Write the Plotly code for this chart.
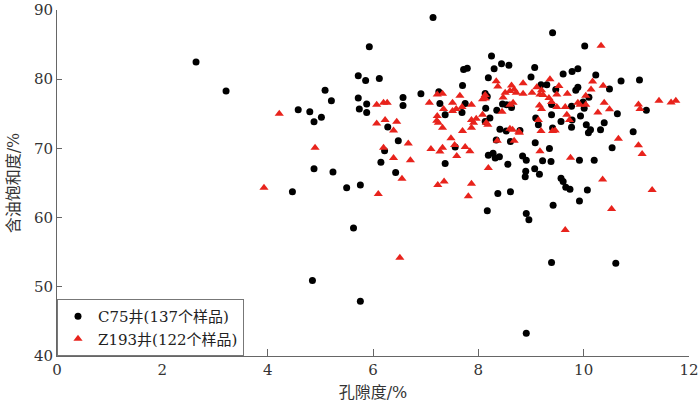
import plotly.graph_objects as go

# C75井 孔隙度 / 含油饱和度
c75_x = [2.64, 3.21, 4.58, 4.47,
         5.93, 5.72, 5.86, 6.12, 5.09, 5.21, 5.72, 5.88, 5.74, 5.88, 4.80, 5.02, 4.88, 6.57, 6.57, 6.28,
         6.48, 6.22, 6.15, 4.88, 5.24, 6.43, 5.50, 5.76, 5.63,
         4.85, 5.76, 9.39, 10.61, 8.91,
         7.14, 8.25, 8.44, 8.58, 8.30, 7.72, 7.79, 8.19, 7.70, 8.13, 8.17, 6.91, 7.25, 7.27, 7.75, 7.69,
         7.37, 8.14, 8.35, 8.46, 8.54, 8.22, 8.13, 8.41, 8.53,
         8.34, 8.61, 7.56, 8.19, 8.28, 8.32, 8.40, 8.56, 7.37, 8.37, 8.61, 8.17,
         9.41, 10.02, 9.07, 9.61, 9.78, 9.89, 10.23, 10.71, 11.06, 9.00, 9.19, 9.30, 9.47, 9.85, 9.89,
         10.49, 10.10, 9.39, 9.77, 9.99, 10.01, 10.64, 11.19, 8.63, 9.09, 9.39, 9.57, 9.78, 9.94, 10.39,
         10.32, 10.05, 10.13, 10.09, 9.77, 9.41, 10.94, 8.79,
         10.54, 9.08, 9.35, 8.84, 8.91, 9.22, 9.38, 9.92, 10.20, 9.07, 9.16, 8.90, 8.89, 9.57, 9.61,
         9.66, 9.74, 10.07, 9.92, 9.42, 8.91, 8.96, 9.14]
c75_y = [82.5, 78.3, 75.6, 63.75,
         84.7, 80.5, 79.8, 80.1, 78.4, 76.9, 77.3, 76.4, 75.7, 75.2, 75.3, 74.5, 73.85, 77.35, 76.2, 73.1,
         71.1, 69.65, 68.0, 67.05, 66.6, 66.5, 64.3, 64.7, 58.5,
         50.9, 47.9, 53.5, 53.4, 43.3,
         88.9, 83.35, 82.25, 82.0, 81.5, 81.4, 81.6, 80.2, 79.1, 77.95, 77.5, 77.9, 78.2, 76.5, 76.5, 75.2,
         74.85, 75.8, 75.5, 76.4, 76.3, 74.4, 73.9, 72.75, 72.5,
         71.2, 71.0, 70.2, 69.0, 69.3, 68.6, 68.8, 67.7, 67.8, 63.5, 63.75, 61.0,
         86.7, 84.8, 81.7, 80.75, 81.1, 81.5, 80.6, 79.75, 79.9, 80.3, 79.2, 79.2, 78.5, 78.4, 78.85,
         78.6, 77.4, 76.35, 76.1, 76.7, 75.8, 75.0, 75.5, 75.9, 74.4, 74.85, 73.9, 74.1, 74.7, 73.7,
         72.7, 73.4, 72.7, 72.25, 73.05, 72.95, 72.4, 72.6,
         70.1, 70.8, 70.0, 68.9, 68.3, 68.2, 68.1, 68.3, 68.3, 67.05, 66.25, 66.7, 65.9, 65.7, 65.2,
         64.4, 64.1, 64.0, 62.4, 61.8, 60.6, 59.7, 73.4]

# Z193井 孔隙度 / 含油饱和度
z193_x = [4.22, 3.93,
          6.07, 6.20, 6.27, 6.07, 6.23, 6.45, 6.39,
          4.90, 6.67, 6.20, 6.39, 6.55, 6.10, 6.51, 6.71,
          8.34, 8.37, 8.63, 8.68, 8.60, 8.51, 8.47, 8.08, 8.13, 7.22, 7.32, 7.65, 7.07, 7.51, 7.87, 7.34,
          7.58, 7.69, 7.51, 7.22, 7.21, 7.24, 7.32, 7.87, 7.96, 7.91, 7.87, 8.45, 8.66, 8.60, 8.08, 8.15,
          8.18, 7.70, 8.60, 8.65, 8.13,
          8.36, 8.68, 8.77, 7.48, 7.55, 7.10, 7.32, 7.27, 7.75, 7.84, 7.59, 8.19, 7.35, 7.23, 7.87, 7.81,
          10.33, 9.36, 8.85, 9.11, 9.53, 10.17, 10.14, 10.37, 8.72, 8.85, 9.02, 9.20, 9.17, 9.23, 9.34,
          9.39, 9.49, 9.69, 10.04, 9.16, 9.20, 9.49, 9.65, 9.89, 9.93, 10.04, 10.39, 10.49, 10.27, 11.04,
          11.07, 11.43, 11.66, 11.75, 9.14, 9.68, 9.73, 9.41, 9.46, 9.19,
          8.78, 10.66, 11.04, 11.11, 9.17, 9.75, 10.36, 11.30, 10.53, 9.65]
z193_y = [75.0, 64.3,
          76.3, 76.6, 76.6, 73.6, 74.1, 73.85, 72.6,
          70.1, 70.7, 70.1, 68.6, 65.6, 63.4, 54.2, 68.3,
          79.7, 78.95, 79.1, 78.5, 78.3, 78.05, 77.35, 77.1, 77.2, 77.8, 77.9, 77.6, 76.6, 76.6, 76.3, 75.7,
          75.7, 76.0, 75.4, 74.7, 74.0, 73.7, 73.0, 74.1, 74.3, 73.7, 73.0, 75.3, 76.6, 76.3, 74.85, 73.7,
          73.4, 72.5, 72.85, 72.7, 77.7,
          71.1, 71.1, 72.4, 71.45, 70.5, 69.9, 70.1, 69.55, 70.2, 69.6, 68.9, 67.15, 65.2, 64.7, 64.9, 63.1,
          84.85, 80.0, 79.4, 78.85, 79.0, 79.65, 78.5, 79.05, 78.05, 77.9, 78.05, 78.4, 77.8, 77.7, 77.3,
          76.7, 77.8, 77.9, 77.6, 76.2, 75.7, 76.0, 76.0, 76.6, 76.3, 76.3, 76.6, 75.65, 75.2, 76.35,
          75.7, 76.9, 76.65, 76.9, 74.1, 74.85, 74.1, 72.5, 72.6, 72.5,
          72.25, 71.4, 70.45, 69.2, 69.6, 68.65, 65.5, 64.0, 61.25, 58.2]

x_ticks = [0, 2, 4, 6, 8, 10, 12]
y_ticks = [40, 50, 60, 70, 80, 90]

serif = "DejaVu Serif, Noto Sans CJK SC, serif"

fig = go.Figure()
fig.add_trace(go.Scatter(x=c75_x, y=c75_y, mode='markers', name='C75井(137个样品)',
                         marker=dict(symbol='circle', size=7, color='#000000')))
fig.add_trace(go.Scatter(x=z193_x, y=z193_y, mode='markers', name='Z193井(122个样品)',
                         marker=dict(symbol='triangle-up', size=8, color='#e8231c')))

fig.update_xaxes(range=[0, 12], tickvals=x_ticks, showgrid=False, zeroline=False,
                 showline=True, linecolor='#666666', linewidth=1,
                 ticks='inside', ticklen=7, tickcolor='#666666', automargin=False,
                 ticklabeloverflow='allow',
                 tickfont=dict(family=serif, size=15, color='#333333'),
                 title=dict(text='孔隙度/%', font=dict(family=serif, size=16, color='#333333'), standoff=8))
fig.update_yaxes(range=[40, 90], tickvals=y_ticks, showgrid=False, zeroline=False,
                 showline=True, linecolor='#666666', linewidth=1,
                 ticks='inside', ticklen=5, tickcolor='#666666', automargin=False,
                 ticklabeloverflow='allow',
                 tickfont=dict(family=serif, size=15, color='#333333'),
                 title=dict(text='含油饱和度/%', font=dict(family=serif, size=16, color='#333333'), standoff=10))

fig.update_layout(width=700, height=409, plot_bgcolor='white', paper_bgcolor='white',
                  margin=dict(l=57, r=11, t=10, b=53),
                  legend=dict(x=0, y=0, xanchor='left', yanchor='bottom',
                              bgcolor='white', bordercolor='#777777', borderwidth=1,
                              font=dict(family=serif, size=15, color='#222222'),
                              itemwidth=30, tracegroupgap=0),
                  showlegend=True)

# 去掉页面默认 8px 边距, 让图贴齐窗口
fig.write_html("out.html", config={'displayModeBar': False},
               post_script="document.body.style.margin='0';")
